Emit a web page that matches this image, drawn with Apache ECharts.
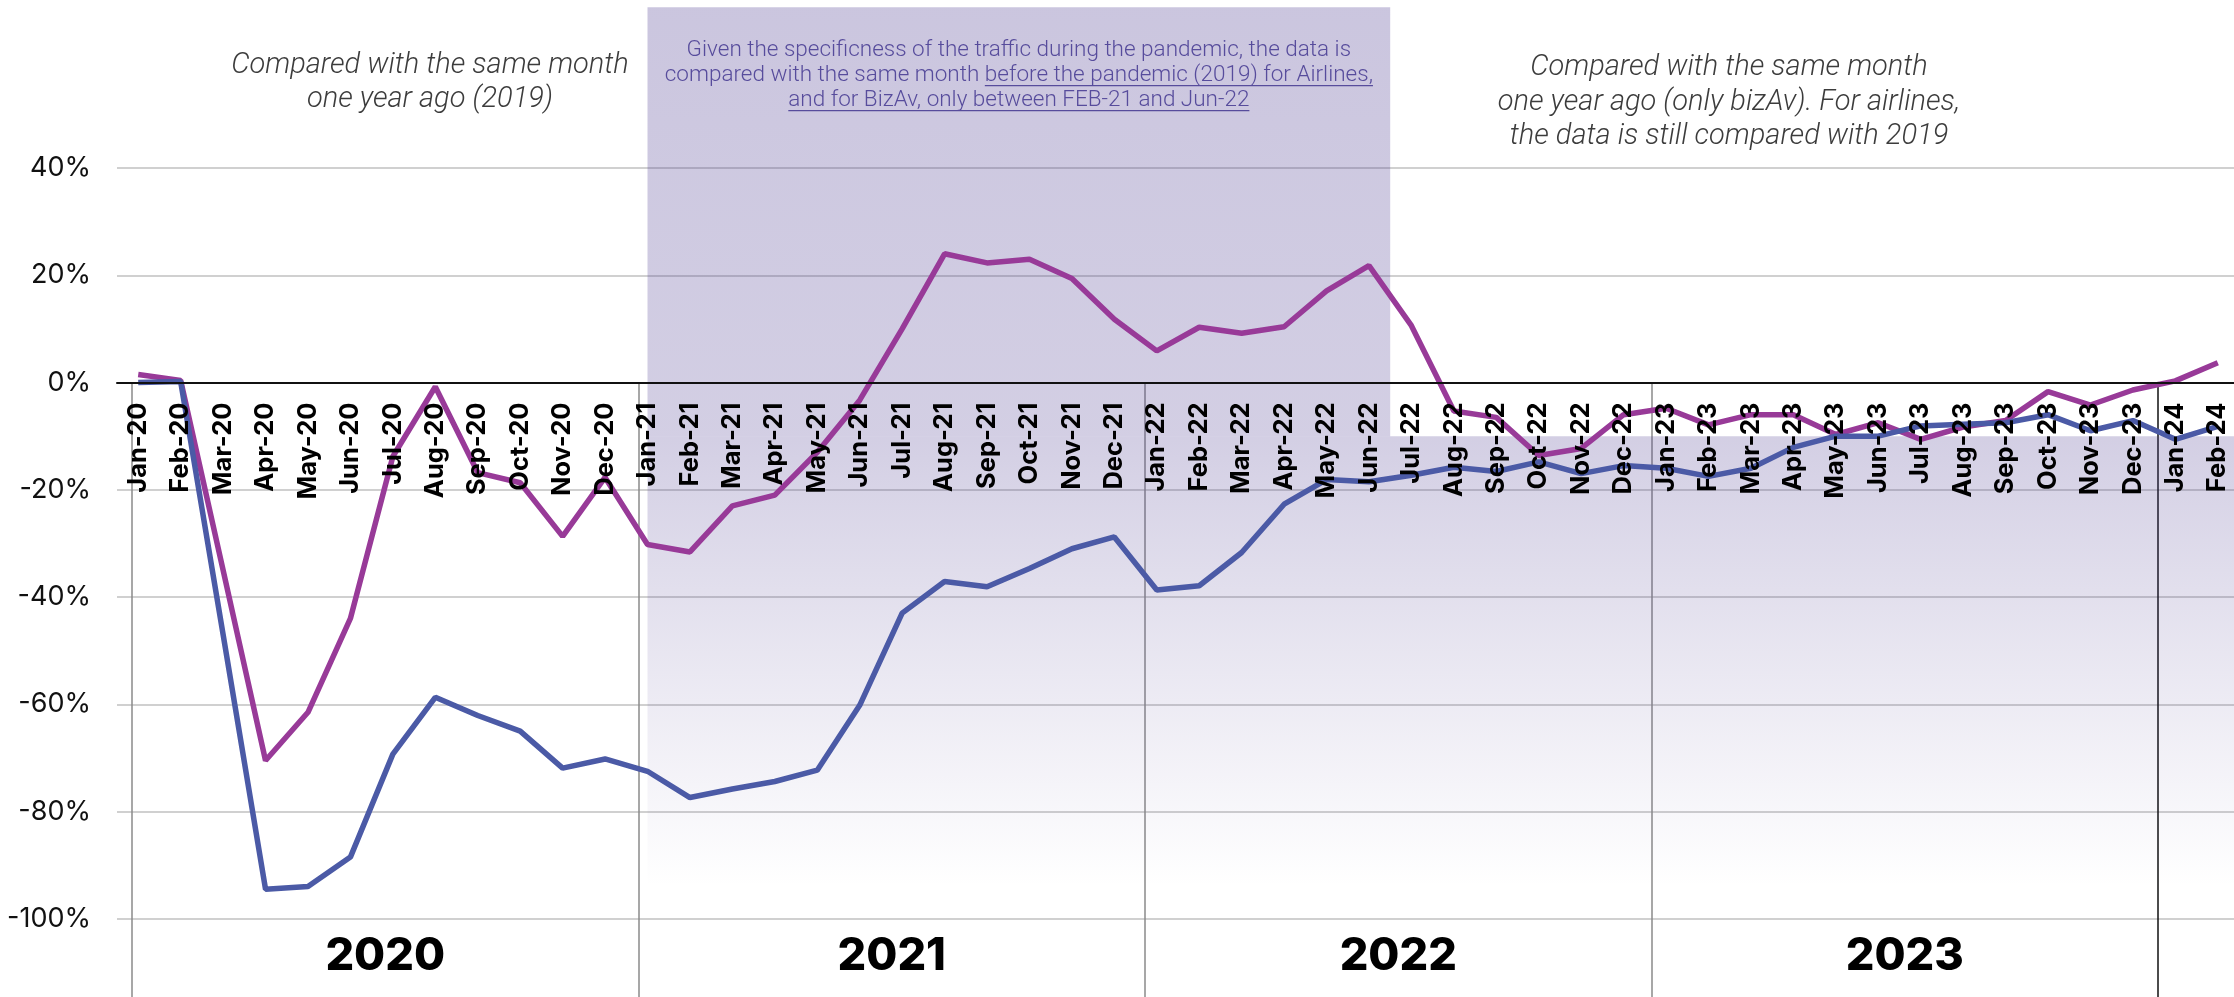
<!DOCTYPE html>
<html>
<head>
<meta charset="utf-8">
<script src="https://cdn.jsdelivr.net/npm/echarts@6/dist/echarts.min.js"></script>
<style>
  html, body { margin: 0; padding: 0; background: #ffffff; }
  #chart { width: 2234px; height: 997px; }
</style>
</head>
<body>
<div id="chart"></div>
<script>
// Monthly traffic change, in % versus the reference month
const months = [
  'Jan-20','Feb-20','Mar-20','Apr-20','May-20','Jun-20','Jul-20','Aug-20','Sep-20','Oct-20','Nov-20','Dec-20',
  'Jan-21','Feb-21','Mar-21','Apr-21','May-21','Jun-21','Jul-21','Aug-21','Sep-21','Oct-21','Nov-21','Dec-21',
  'Jan-22','Feb-22','Mar-22','Apr-22','May-22','Jun-22','Jul-22','Aug-22','Sep-22','Oct-22','Nov-22','Dec-22',
  'Jan-23','Feb-23','Mar-23','Apr-23','May-23','Jun-23','Jul-23','Aug-23','Sep-23','Oct-23','Nov-23','Dec-23',
  'Jan-24','Feb-24'
];

// Business aviation
const bizAv = [
  1.5, 0.4, -35, -70.5, -61.5, -44, -13.8, -0.8, -16.8, -18.7, -28.7, -17.7,
  -30.2, -31.6, -23, -21, -13, -3.3, 10, 24, 22.3, 23, 19.4, 11.8,
  5.9, 10.3, 9.2, 10.4, 17.1, 21.8, 10.6, -5.3, -6.5, -13.6, -12.3, -6,
  -4.8, -7.9, -6, -6, -9.7, -7.5, -10.6, -8.3, -7.1, -1.7, -4.2, -1.4,
  0.3, 3.7
];

// Airlines
const airlines = [
  0, 0.2, -47, -94.5, -94, -88.5, -69.3, -58.7, -62.1, -65, -71.9, -70.2,
  -72.5, -77.4, -75.8, -74.4, -72.3, -60.2, -43, -37.1, -38.1, -34.7, -31, -28.8,
  -38.7, -37.9, -31.7, -22.7, -18.1, -18.5, -17.3, -15.8, -16.6, -14.8, -17, -15.5,
  -16, -17.5, -16, -12.1, -10, -10, -8.1, -7.8, -7.5, -6, -9, -7.1,
  -10.6, -8.2
];

// Year bands under the month axis
const years = ['2020', '2021', '2022', '2023'];

// Value axis range
const yMin = -120, yMax = 40, yStep = 20;

// Notes written above the plot
const noteLeft = ['Compared with the same month', 'one year ago (2019)'];
const noteRight = [
  'Compared with the same month',
  'one year ago (only bizAv). For airlines,',
  'the data is still compared with 2019'
];
// [text, underlined]
const notePandemic = [
  [['Given the specificness of the traffic during the pandemic, the data is', false]],
  [['compared with the same month ', false], ['before the pandemic (2019) for Airlines,', true]],
  [['and for BizAv, only between FEB-21 and Jun-22', true]]
];

// Pandemic comparison period
const shadeFrom = 'Jan-21';
const shadeTo = 'Jun-22';

const chart = echarts.init(document.getElementById('chart'), null, { renderer: 'canvas' });

// Plot box; the bottom runs past the page so the -120% line sits just out of view
const PLOT_LEFT = 117, PLOT_RIGHT = -5, PLOT_TOP = 168, PLOT_BOTTOM = -29;
const PAGE_H = 997;
const ZERO_Y = PLOT_TOP + (yMax / (yMax - yMin)) * (PAGE_H - PLOT_BOTTOM - PLOT_TOP);

const option = {
  animation: false,
  backgroundColor: '#ffffff',
  grid: [
    // plot area
    { left: PLOT_LEFT, right: PLOT_RIGHT, top: PLOT_TOP, bottom: PLOT_BOTTOM, outerBoundsMode: 'none' },
    // year bands
    { left: 132, right: 76, top: ZERO_Y, bottom: 0, outerBoundsMode: 'none' },
    // month axis sitting on the 0% line
    { left: PLOT_LEFT, right: PLOT_RIGHT, top: 0, height: ZERO_Y, outerBoundsMode: 'none' }
  ],
  xAxis: [
    {
      type: 'category', gridIndex: 0, data: months, boundaryGap: true,
      axisLine: { show: false }, axisTick: { show: false },
      axisLabel: { show: false }, splitLine: { show: false }
    },
    {
      type: 'category', gridIndex: 1, data: years, boundaryGap: true,
      axisLine: { show: false },
      axisTick: { show: false },
      axisLabel: {
        inside: true, margin: 41, verticalAlign: 'middle', color: '#000000',
        fontFamily: 'Inter', fontWeight: 800, fontSize: 45
      },
      splitLine: { show: true, showMaxLine: false, lineStyle: { color: '#8a8a8a', width: 1.5 } }
    },
    {
      type: 'category', gridIndex: 2, data: months, boundaryGap: true, position: 'bottom', z: 5,
      axisLine: { show: true, onZero: false, lineStyle: { color: '#111111', width: 2 } },
      axisTick: { show: false },
      splitLine: { show: false },
      axisLabel: {
        show: true, interval: 0, rotate: 90, margin: 20, color: '#000000',
        fontFamily: 'Inter', fontWeight: 700, fontSize: 25.5
      }
    }
  ],
  yAxis: [
    {
      type: 'value', gridIndex: 0, min: yMin, max: yMax, interval: yStep,
      axisLine: { show: false },
      axisTick: { show: false },
      axisLabel: { formatter: '{value}%', margin: 26, color: '#111111', fontFamily: 'Inter', fontSize: 27 },
      splitLine: { lineStyle: { color: '#d0d0d0', width: 2 } }
    },
    {
      type: 'value', gridIndex: 1, position: 'right', min: 0, max: 1,
      axisLine: { show: true, lineStyle: { color: '#111111', width: 1.5 } },
      axisTick: { show: false },
      axisLabel: { show: false },
      splitLine: { show: false }
    },
    {
      type: 'value', gridIndex: 2, min: 0, max: 1, show: false
    }
  ],
  series: [
    {
      name: 'BizAv', type: 'line', xAxisIndex: 0, yAxisIndex: 0, data: bizAv,
      symbol: 'none', z: 3,
      lineStyle: { color: '#983a98', width: 5.5 }
    },
    {
      name: 'Airlines', type: 'line', xAxisIndex: 0, yAxisIndex: 0, data: airlines,
      symbol: 'none', z: 3,
      lineStyle: { color: '#4b5aa6', width: 5.5 }
    }
  ]
};

chart.setOption(option);

// Shaded period and notes, placed from the axes' own scales
const measureCtx = document.createElement('canvas').getContext('2d');
function textWidth(str, font) { measureCtx.font = font; return measureCtx.measureText(str).width; }
function px(x, y) { return chart.convertToPixel({ gridIndex: 0 }, [x, y]); }

const W = chart.getWidth();
const iTo = months.indexOf(shadeTo);
const xStart = px(shadeFrom, 0)[0];
const xEnd = (px(iTo, 0)[0] + px(iTo + 1, 0)[0]) / 2;
const yTop = px(0, 70)[1];
const ySplit = px(0, -10)[1];
const yFade = px(0, -94)[1];

const tint = (a) => 'rgba(82,65,148,' + a + ')';
const elements = [
  {
    type: 'rect', z: 1, silent: true,
    shape: { x: xStart, y: yTop, width: xEnd - xStart, height: ySplit - yTop },
    style: { fill: new echarts.graphic.LinearGradient(0, 0, 0, 1, [
      { offset: 0, color: tint(0.30) }, { offset: 1, color: tint(0.255) }
    ]) }
  },
  {
    type: 'rect', z: 1, silent: true,
    shape: { x: xStart, y: ySplit, width: W - xStart, height: yFade - ySplit },
    style: { fill: new echarts.graphic.LinearGradient(0, 0, 0, 1, [
      { offset: 0, color: tint(0.255) }, { offset: 1, color: tint(0) }
    ]) }
  }
];

const italicFont = 'italic 300 29px Roboto';
const noteColor = '#3c3c3c';
function addCentered(lines, cx, ys) {
  lines.forEach((t, i) => {
    elements.push({
      type: 'text', z: 6, silent: true, x: cx, y: ys[i],
      style: { text: t, font: italicFont, fill: noteColor, align: 'center', verticalAlign: 'middle' }
    });
  });
}
addCentered(noteLeft, 430, [66, 100]);
addCentered(noteRight, 1729, [68, 103, 137]);

const boxFont = '300 22.5px Roboto';
const boxColor = '#574c9c';
const boxCx = (xStart + xEnd) / 2;
const boxYs = [50, 75, 100];
notePandemic.forEach((segs, i) => {
  const total = segs.reduce((s, g) => s + textWidth(g[0], boxFont), 0);
  let x = boxCx - total / 2;
  segs.forEach(([t, u]) => {
    const w = textWidth(t, boxFont);
    elements.push({
      type: 'text', z: 6, silent: true, x: x, y: boxYs[i],
      style: { text: t, font: boxFont, fill: boxColor, align: 'left', verticalAlign: 'middle' }
    });
    if (u) {
      const uw = t.endsWith(' ') ? w - textWidth(' ', boxFont) : w;
      elements.push({
        type: 'rect', z: 6, silent: true,
        shape: { x: x, y: boxYs[i] + 10, width: uw, height: 1.3 },
        style: { fill: boxColor }
      });
    }
    x += w;
  });
});

chart.setOption({ graphic: { elements: elements } });
</script>
</body>
</html>
